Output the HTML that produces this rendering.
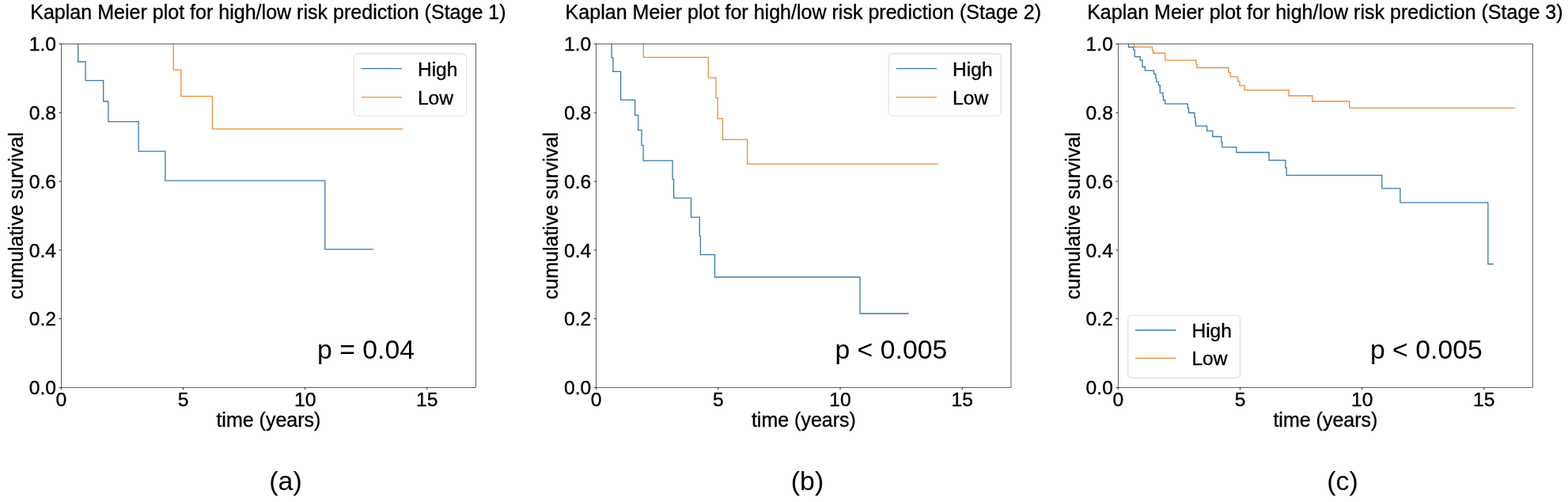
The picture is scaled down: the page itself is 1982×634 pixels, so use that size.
<!DOCTYPE html>
<html lang="en">
<head>
<meta charset="utf-8">
<title>Kaplan Meier plot for high/low risk prediction</title>
<style>
html, body { margin: 0; padding: 0; background: #ffffff; }
body { width: 1982px; height: 634px; overflow: hidden; }
svg { display: block; }
text { font-family: "Liberation Sans", sans-serif; fill: #000000; stroke: #000000; stroke-width: 0.35px; stroke-linejoin: round; }
.title { font-size: 25.06px; text-anchor: middle; }
.tick { font-size: 24.7px; }
.ytick { text-anchor: end; }
.xtick { text-anchor: middle; }
.label { font-size: 25px; text-anchor: middle; }
.leg { font-size: 24.6px; }
.pval { font-size: 33.8px; stroke: none; }
.sub { font-size: 33.9px; text-anchor: middle; stroke: none; }
.axis { fill: none; stroke: #000000; stroke-width: 0.62; }
.tk { stroke: #000000; stroke-width: 0.8; fill: none; }
.curve { fill: none; stroke-width: 1.3; stroke-linejoin: miter; stroke-linecap: butt; }
.hi { stroke: #397aa9; }
.lo { stroke: #e88d38; }
.legbox { fill: #ffffff; fill-opacity: 0.8; stroke: #dedede; stroke-width: 1.1; }
</style>
</head>
<body>
<svg width="1982" height="634" viewBox="0 0 1982 634">
<rect x="0" y="0" width="1982" height="634" fill="#ffffff"/>

<g id="panel1">
<text class="title" x="338.90" y="24">Kaplan Meier plot for high/low risk prediction (Stage 1)</text>
<path class="curve hi" d="M98.7 55.5 L98.7 78.0 L108.1 78.0 L108.1 101.7 L130.7 101.7 L130.7 128.0 L136.9 128.0 L136.9 153.7 L175.1 153.7 L175.1 191.1 L208.9 191.1 L208.9 228.1 L410.8 228.1 L410.8 314.9 L472.3 314.9"/>
<path class="curve lo" d="M219.2 55.5 L219.2 88.2 L228.8 88.2 L228.8 121.6 L268.4 121.6 L268.4 162.8 L509.4 162.8"/>
<rect class="axis" x="77.4" y="55.5" width="524.1" height="433.9"/>
<text class="tick ytick" x="71.0" y="498">0.0</text>
<text class="tick ytick" x="71.0" y="411">0.2</text>
<text class="tick ytick" x="71.0" y="325">0.4</text>
<text class="tick ytick" x="71.0" y="238">0.6</text>
<text class="tick ytick" x="71.0" y="151">0.8</text>
<text class="tick ytick" x="71.0" y="64">1.0</text>
<text class="tick xtick" x="77.4" y="513">0</text>
<text class="tick xtick" x="231.5" y="513">5</text>
<text class="tick xtick" x="385.7" y="513">10</text>
<text class="tick xtick" x="539.8" y="513">15</text>
<path class="tk" d="M77.4 489.4h-2.9 M77.4 402.6h-2.9 M77.4 315.8h-2.9 M77.4 229.1h-2.9 M77.4 142.3h-2.9 M77.4 55.5h-2.9 M77.4 489.4v2.9 M231.5 489.4v2.9 M385.7 489.4v2.9 M539.8 489.4v2.9"/>
<text class="label" x="339.4" y="539">time (years)</text>
<text class="label" transform="translate(28.5 272.6) rotate(-90)">cumulative survival</text>
<rect class="legbox" x="447.3" y="67.9" width="142.2" height="78.3" rx="4.5" ry="4.5"/>
<path class="curve hi" d="M456.6 86.7H507.9"/>
<path class="curve lo" d="M456.6 122.8H507.9"/>
<text class="leg" x="527.9" y="96">High</text>
<text class="leg" x="527.9" y="132">Low</text>
<text class="pval" x="401.0" y="453">p = 0.04</text>
<text class="sub" x="361.0" y="619">(a)</text>
</g>
<g id="panel2">
<text class="title" x="1015.30" y="24">Kaplan Meier plot for high/low risk prediction (Stage 2)</text>
<path class="curve hi" d="M773.1 55.5 L773.1 72.7 L774.9 72.7 L774.9 90.4 L784.6 90.4 L784.6 126.1 L802.7 126.1 L802.7 145.4 L806.8 145.4 L806.8 164.4 L811.0 164.4 L811.0 183.7 L813.1 183.7 L813.1 202.8 L850.1 202.8 L850.1 226.6 L851.6 226.6 L851.6 250.2 L873.5 250.2 L873.5 274.3 L884.3 274.3 L884.3 298.1 L885.4 298.1 L885.4 321.7 L903.5 321.7 L903.5 350.0 L1087.1 350.0 L1087.1 396.0 L1148.7 396.0"/>
<path class="curve lo" d="M813.3 55.5 L813.3 72.3 L895.4 72.3 L895.4 98.1 L905.0 98.1 L905.0 123.5 L907.2 123.5 L907.2 149.9 L913.5 149.9 L913.5 176.3 L944.6 176.3 L944.6 207.2 L1185.9 207.2"/>
<rect class="axis" x="753.7" y="55.5" width="524.3" height="433.9"/>
<text class="tick ytick" x="747.3" y="498">0.0</text>
<text class="tick ytick" x="747.3" y="411">0.2</text>
<text class="tick ytick" x="747.3" y="325">0.4</text>
<text class="tick ytick" x="747.3" y="238">0.6</text>
<text class="tick ytick" x="747.3" y="151">0.8</text>
<text class="tick ytick" x="747.3" y="64">1.0</text>
<text class="tick xtick" x="753.7" y="513">0</text>
<text class="tick xtick" x="907.9" y="513">5</text>
<text class="tick xtick" x="1062.1" y="513">10</text>
<text class="tick xtick" x="1216.3" y="513">15</text>
<path class="tk" d="M753.7 489.4h-2.9 M753.7 402.6h-2.9 M753.7 315.8h-2.9 M753.7 229.1h-2.9 M753.7 142.3h-2.9 M753.7 55.5h-2.9 M753.7 489.4v2.9 M907.9 489.4v2.9 M1062.1 489.4v2.9 M1216.3 489.4v2.9"/>
<text class="label" x="1015.9" y="539">time (years)</text>
<text class="label" transform="translate(705.0 272.6) rotate(-90)">cumulative survival</text>
<rect class="legbox" x="1123.5" y="67.9" width="141.9" height="78.4" rx="4.5" ry="4.5"/>
<path class="curve hi" d="M1132.8 86.7H1184.1"/>
<path class="curve lo" d="M1132.8 122.8H1184.1"/>
<text class="leg" x="1204.1" y="96">High</text>
<text class="leg" x="1204.1" y="132">Low</text>
<text class="pval" x="1055.4" y="453">p &lt; 0.005</text>
<text class="sub" x="1020.5" y="619">(b)</text>
</g>
<g id="panel3">
<text class="title" x="1674.85" y="24">Kaplan Meier plot for high/low risk prediction (Stage 3)</text>
<path class="curve hi" d="M1426.6 55.5 L1426.6 59.5 L1432.8 59.5 L1432.8 63.2 L1434.3 63.2 L1434.3 71.6 L1441.3 71.6 L1441.3 76.0 L1444.0 76.0 L1444.0 84.5 L1447.4 84.5 L1447.4 89.1 L1458.5 89.1 L1458.5 93.5 L1460.8 93.5 L1460.8 98.6 L1461.8 98.6 L1461.8 103.3 L1464.3 103.3 L1464.3 107.7 L1466.3 107.7 L1466.3 117.3 L1470.0 117.3 L1470.0 121.7 L1470.5 121.7 L1470.5 126.5 L1472.7 126.5 L1472.7 131.1 L1501.4 131.1 L1501.4 136.5 L1502.5 136.5 L1502.5 142.5 L1509.9 142.5 L1509.9 148.2 L1510.9 148.2 L1510.9 153.9 L1511.5 153.9 L1511.5 159.2 L1525.6 159.2 L1525.6 165.3 L1532.9 165.3 L1532.9 172.5 L1543.8 172.5 L1543.8 179.2 L1544.8 179.2 L1544.8 185.8 L1562.9 185.8 L1562.9 192.5 L1604.0 192.5 L1604.0 202.3 L1624.9 202.3 L1624.9 211.8 L1626.2 211.8 L1626.2 221.3 L1746.8 221.3 L1746.8 237.8 L1769.9 237.8 L1769.9 255.8 L1880.9 255.8 L1880.9 333.5 L1887.8 333.5"/>
<path class="curve lo" d="M1433.8 55.5 L1433.8 59.4 L1456.4 59.4 L1456.4 63.4 L1457.5 63.4 L1457.5 67.0 L1472.8 67.0 L1472.8 76.1 L1512.1 76.1 L1512.1 81.4 L1513.0 81.4 L1513.0 85.5 L1552.9 85.5 L1552.9 91.3 L1555.2 91.3 L1555.2 96.8 L1564.7 96.8 L1564.7 102.6 L1567.0 102.6 L1567.0 108.1 L1573.2 108.1 L1573.2 113.8 L1629.0 113.8 L1629.0 121.0 L1658.9 121.0 L1658.9 128.0 L1705.7 128.0 L1705.7 136.3 L1915.3 136.3"/>
<rect class="axis" x="1413.3" y="55.5" width="524.2" height="433.9"/>
<text class="tick ytick" x="1406.9" y="498">0.0</text>
<text class="tick ytick" x="1406.9" y="411">0.2</text>
<text class="tick ytick" x="1406.9" y="325">0.4</text>
<text class="tick ytick" x="1406.9" y="238">0.6</text>
<text class="tick ytick" x="1406.9" y="151">0.8</text>
<text class="tick ytick" x="1406.9" y="64">1.0</text>
<text class="tick xtick" x="1413.3" y="513">0</text>
<text class="tick xtick" x="1567.5" y="513">5</text>
<text class="tick xtick" x="1721.7" y="513">10</text>
<text class="tick xtick" x="1875.8" y="513">15</text>
<path class="tk" d="M1413.3 489.4h-2.9 M1413.3 402.6h-2.9 M1413.3 315.8h-2.9 M1413.3 229.1h-2.9 M1413.3 142.3h-2.9 M1413.3 55.5h-2.9 M1413.3 489.4v2.9 M1567.5 489.4v2.9 M1721.7 489.4v2.9 M1875.8 489.4v2.9"/>
<text class="label" x="1675.4" y="539">time (years)</text>
<text class="label" transform="translate(1364.5 272.6) rotate(-90)">cumulative survival</text>
<rect class="legbox" x="1425.8" y="398.2" width="141.8" height="78.9" rx="4.5" ry="4.5"/>
<path class="curve hi" d="M1435.1 417.0H1486.4"/>
<path class="curve lo" d="M1435.1 452.4H1486.4"/>
<text class="leg" x="1506.4" y="426">High</text>
<text class="leg" x="1506.4" y="461">Low</text>
<text class="pval" x="1731.9" y="453">p &lt; 0.005</text>
<text class="sub" x="1697.0" y="619">(c)</text>
</g>
</svg>
</body>
</html>
